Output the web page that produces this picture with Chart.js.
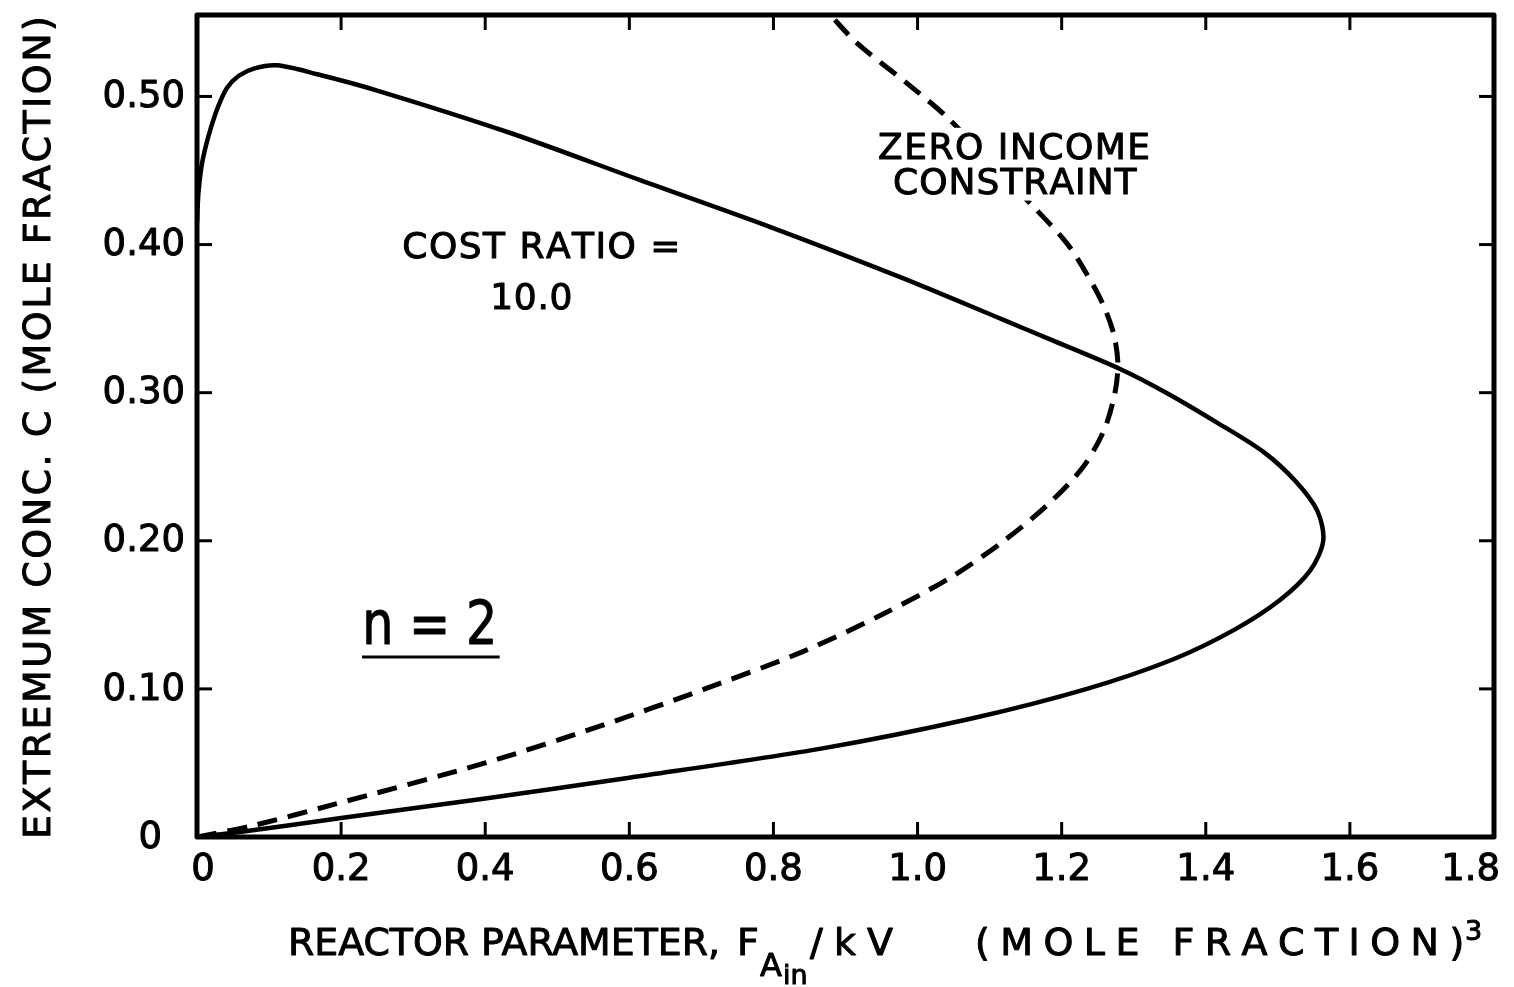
<!DOCTYPE html>
<html>
<head>
<meta charset="utf-8">
<title>Extremum concentration vs reactor parameter</title>
<script src="https://cdn.jsdelivr.net/npm/chart.js@4.4.1/dist/chart.umd.min.js"></script>
<style>
body { margin: 0; background: #fff; }
#wrap { width: 1514px; height: 987px; position: relative; }
</style>
</head>
<body>
<div id="wrap"><canvas id="chart"></canvas></div>
<script>
var FONT = '"DejaVu Sans", "Liberation Sans", sans-serif';

// axis ticks
var xTicks = [0, 0.2, 0.4, 0.6, 0.8, 1.0, 1.2, 1.4, 1.6, 1.8];
var xTickLabels = ['0', '0.2', '0.4', '0.6', '0.8', '1.0', '1.2', '1.4', '1.6', '1.8'];
var yTicks = [0, 0.1, 0.2, 0.3, 0.4, 0.5];
var yTickLabels = ['0', '0.10', '0.20', '0.30', '0.40', '0.50'];

// cost ratio = 10.0 (solid): from the origin along the lower branch, round the nose, back over the top to the axis
var costX = [0, 0.062, 0.2, 0.4, 0.6, 0.87, 1.075, 1.235, 1.355, 1.44, 1.503, 1.545, 1.563,
	1.555, 1.525, 1.48, 1.415, 1.345, 1.281, 1.184, 1.12, 0.976, 0.795, 0.615, 0.434, 0.25, 0.167,
	0.111, 0.08, 0.058, 0.042, 0.03, 0.02, 0.012, 0.006, 0.002, 0];
var costY = [0, 0.0036, 0.0128, 0.026, 0.04, 0.06, 0.08, 0.1, 0.12, 0.14, 0.16, 0.18, 0.2,
	0.22, 0.24, 0.26, 0.28, 0.3, 0.316, 0.336, 0.349, 0.378, 0.412, 0.4435, 0.4755, 0.504, 0.515,
	0.521, 0.519, 0.514, 0.506, 0.494, 0.48, 0.466, 0.452, 0.435, 0.415];

// zero income constraint (dashed)
var zeroX = [0, 0.08, 0.19, 0.4, 0.56, 0.705, 0.84, 0.95, 1.045, 1.12, 1.182, 1.23, 1.259, 1.274, 1.278,
	1.272, 1.257, 1.235, 1.207, 1.16, 1.1, 1.041, 0.985, 0.916, 0.879];
var zeroY = [0, 0.008, 0.022, 0.05, 0.075, 0.1, 0.125, 0.15, 0.175, 0.2, 0.225, 0.25, 0.275, 0.3, 0.32,
	0.34, 0.36, 0.38, 0.401, 0.426, 0.456, 0.486, 0.509, 0.536, 0.555];

var toPoints = function(xs, ys) {
	return xs.map(function(x, i) { return { x: x, y: ys[i] }; });
};

// text placed in data units: [text, x, y, width px, font px]
var notes = [
	['COST RATIO =', 0.475, 0.397, 274, 36],
	['10.0', 0.464, 0.363, 82, 36],
	['ZERO INCOME', 1.134, 0.464, 272, 36],
	['CONSTRAINT', 1.134, 0.4405, 242, 36]
];

// filled text with a thin outline, to get the inked pen weight
var ink = function(ctx, text, x, y) {
	ctx.fillText(text, x, y);
	ctx.strokeText(text, x, y);
};

// draw a string stretched (letter spacing) or squeezed to a given width
var drawFit = function(ctx, text, x, y, width, align) {
	var natural = ctx.measureText(text).width;
	var chars = text.split('');
	var sp = chars.length > 1 ? (width - natural) / (chars.length - 1) : 0;
	var left = align === 'center' ? x - width / 2 : x;
	ctx.save();
	ctx.textAlign = 'left';
	if (sp < 0) {
		ctx.translate(left, y);
		ctx.scale(width / natural, 1);
		ink(ctx, text, 0, 0);
	} else {
		var cx = left;
		chars.forEach(function(ch) {
			ink(ctx, ch, cx, y);
			cx += ctx.measureText(ch).width + sp;
		});
	}
	ctx.restore();
};

var line = function(ctx, x1, y1, x2, y2) {
	ctx.beginPath();
	ctx.moveTo(x1, y1);
	ctx.lineTo(x2, y2);
	ctx.stroke();
};

var paperPlugin = {
	id: 'paper',
	afterDatasetsDraw: function(chart) {
		var ctx = chart.ctx, a = chart.chartArea;
		var sx = chart.scales.x, sy = chart.scales.y;
		ctx.save();
		ctx.fillStyle = '#000';
		ctx.strokeStyle = '#000';
		ctx.lineCap = 'butt';
		ctx.lineJoin = 'round';

		// label block sits over the dashed curve
		var zx = sx.getPixelForValue(notes[2][1]);
		var zy1 = sy.getPixelForValue(notes[2][2]);
		var zy2 = sy.getPixelForValue(notes[3][2]);
		ctx.fillStyle = '#fff';
		ctx.fillRect(zx - 142, zy1 - 22, 284, zy2 - zy1 + 38);
		ctx.fillStyle = '#000';

		// frame
		ctx.lineWidth = 5;
		ctx.strokeRect(a.left, a.top, a.right - a.left, a.bottom - a.top);

		// inward ticks on all four sides
		ctx.lineWidth = 3;
		sx.ticks.forEach(function(t) {
			var px = sx.getPixelForValue(t.value);
			if (px <= a.left + 2 || px >= a.right - 2) return;
			line(ctx, px, a.bottom, px, a.bottom - 15);
			line(ctx, px, a.top, px, a.top + 15);
		});
		sy.ticks.forEach(function(t) {
			var py = sy.getPixelForValue(t.value);
			if (py >= a.bottom - 2 || py <= a.top + 2) return;
			line(ctx, a.left, py, a.left + 15, py);
			line(ctx, a.right, py, a.right - 15, py);
		});

		// tick labels (kept inside the page at the ends)
		ctx.lineWidth = 1;
		ctx.font = '37px ' + FONT;
		ctx.textBaseline = 'middle';
		ctx.textAlign = 'center';
		xTicks.forEach(function(v, i) {
			var half = ctx.measureText(xTickLabels[i]).width / 2;
			var px = Math.max(a.left + 6, Math.min(sx.getPixelForValue(v), chart.width - half - 14));
			ink(ctx, xTickLabels[i], px, a.bottom + 33);
		});
		ctx.textAlign = 'right';
		yTicks.forEach(function(v, i) {
			var rx = v === 0 ? a.left - 35 : a.left - 12;
			ink(ctx, yTickLabels[i], rx, sy.getPixelForValue(v) + 1);
		});

		// notes
		notes.forEach(function(n) {
			ctx.font = n[4] + 'px ' + FONT;
			drawFit(ctx, n[0], sx.getPixelForValue(n[1]), sy.getPixelForValue(n[2]), n[3], 'center');
		});

		// n = 2, underlined
		var nx = sx.getPixelForValue(0.323), ny = sy.getPixelForValue(0.141);
		ctx.font = '60px ' + FONT;
		drawFit(ctx, 'n = 2', nx, ny, 135, 'center');
		var uy = sy.getPixelForValue(0.1216);
		ctx.lineWidth = 3;
		line(ctx, sx.getPixelForValue(0.229), uy, sx.getPixelForValue(0.42), uy);
		ctx.lineWidth = 1;

		// y title
		ctx.save();
		ctx.translate(40, (a.top + a.bottom) / 2 + 3);
		ctx.rotate(-Math.PI / 2);
		ctx.font = '38px ' + FONT;
		drawFit(ctx, 'EXTREMUM CONC. C (MOLE FRACTION)', 0, 0, 820, 'center');
		ctx.restore();

		// x title with subscripts
		ctx.textBaseline = 'alphabetic';
		ctx.textAlign = 'left';
		ctx.font = '38px ' + FONT;
		drawFit(ctx, 'REACTOR PARAMETER,', 288, 955, 432, 'left');
		ink(ctx, 'F', 737, 955);
		ctx.font = '32px ' + FONT;
		ink(ctx, 'A', 760, 976);
		ctx.font = '27px ' + FONT;
		ink(ctx, 'in', 783, 984);
		ctx.font = '38px ' + FONT;
		drawFit(ctx, '/kV', 810, 955, 83, 'left');
		drawFit(ctx, '(MOLE FRACTION)', 975, 955, 487, 'left');
		ctx.font = '27px ' + FONT;
		ink(ctx, '3', 1465, 940);

		ctx.restore();
	}
};

Chart.defaults.font.family = FONT;
Chart.defaults.color = '#000';

var ctx = document.getElementById('chart');
var chart = new Chart(ctx, {
	type: 'scatter',
	data: {
		datasets: [{
			label: 'Cost ratio = 10.0',
			data: toPoints(costX, costY),
			showLine: true,
			borderColor: '#000',
			borderWidth: 4.5,
			pointRadius: 0,
			tension: 0.3
		}, {
			label: 'Zero income constraint',
			data: toPoints(zeroX, zeroY),
			showLine: true,
			borderColor: '#000',
			borderWidth: 5,
			borderDash: [20, 11],
			pointRadius: 0,
			tension: 0.3
		}]
	},
	options: {
		responsive: true,
		maintainAspectRatio: false,
		animation: false,
		layout: { padding: { left: 0, right: 20, top: 15, bottom: 0 } },
		plugins: {
			legend: { display: false },
			tooltip: { enabled: false }
		},
		scales: {
			x: {
				type: 'linear',
				min: 0,
				max: 1.8,
				afterBuildTicks: function(s) { s.ticks = xTicks.map(function(v) { return { value: v }; }); },
				afterFit: function(s) { s.height = 150; },
				grid: { display: false, drawTicks: false },
				border: { display: false },
				ticks: { display: false }
			},
			y: {
				type: 'linear',
				min: 0,
				max: 0.555,
				afterBuildTicks: function(s) { s.ticks = yTicks.map(function(v) { return { value: v }; }); },
				afterFit: function(s) { s.width = 197; },
				grid: { display: false, drawTicks: false },
				border: { display: false },
				ticks: { display: false }
			}
		}
	},
	plugins: [paperPlugin]
});
</script>
</body>
</html>
